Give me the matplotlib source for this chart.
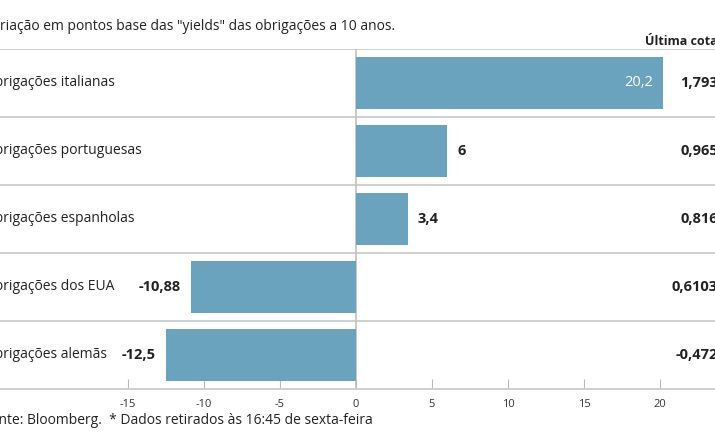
import matplotlib
matplotlib.use("Agg")
from matplotlib import pyplot as plt

# data
categories = ["Obrigações italianas", "Obrigações portuguesas", "Obrigações espanholas",
              "Obrigações dos EUA", "Obrigações alemãs"]
variation = [20.2, 6, 3.4, -10.88, -12.5]
variation_labels = ["20,2", "6", "3,4", "-10,88", "-12,5"]
last_quote = ["1,793", "0,965", "0,816", "0,6103", "-0,472"]
xticks = [-15, -10, -5, 0, 5, 10, 15, 20]

plt.rcParams["font.family"] = ["Open Sans", "DejaVu Sans"]

W, H = 715, 445
fig = plt.figure(figsize=(W / 100, H / 100), dpi=100)

# pixel geometry of the plotting area
x0_px, px_per_unit = 356, 15.2
top_px, bot_px = 49, 389
ax = fig.add_axes([0, (H - bot_px) / H, 1, (bot_px - top_px) / H])
ax.set_xlim(-x0_px / px_per_unit, (W - x0_px) / px_per_unit)
ax.set_ylim(len(categories) - 0.5, -0.5)

bar_color = "#6aa3be"
grid_color = "#cccccc"
ypos = list(range(len(categories)))
ax.barh(ypos, variation, height=0.76, color=bar_color, zorder=2)

# row separators and zero line
for i in range(len(categories)):
    ax.axhline(i - 0.5, color=grid_color, lw=1.3, zorder=1)
ax.axvline(0, color="#c4c4c4", lw=1.3, zorder=1)

for spine in ["top", "left", "right"]:
    ax.spines[spine].set_visible(False)
ax.spines["bottom"].set_color(grid_color)
ax.spines["bottom"].set_linewidth(1.3)
ax.set_yticks([])
ax.set_xticks(xticks)
ax.set_xticklabels([str(t) for t in xticks])
ax.tick_params(axis="x", direction="in", length=7, width=0.8, color="#bbbbbb",
               labelsize=8, labelcolor="#333333", pad=7)

label_x = -x0_px / px_per_unit - 16 / px_per_unit
for i, (cat, val, lab, q) in enumerate(zip(categories, variation, variation_labels, last_quote)):
    ax.text(label_x, i, cat, ha="left", va="center", fontsize=10, color="#222222")
    if val > 15:
        ax.text(val - 0.65, i, lab, ha="right", va="center", fontsize=10.5,
                color="white", zorder=3)
    elif val >= 0:
        ax.text(val + 0.65, i, lab, ha="left", va="center", fontsize=10.5,
                fontweight="bold", color="#222222")
    else:
        ax.text(val - 0.65, i, lab, ha="right", va="center", fontsize=10.5,
                fontweight="bold", color="#222222")
    fig.text(718 / W, (H - (top_px + 34 + 68 * i)) / H, q, ha="right", va="center",
             fontsize=10.5, fontweight="bold", color="#222222")

fig.text(645 / W, (H - 40) / H, "Última cotação*", ha="left", va="center",
         fontsize=9, fontweight="bold", color="#222222")
fig.text(-16 / W, (H - 26) / H,
         'Variação em pontos base das "yields" das obrigações a 10 anos.',
         ha="left", va="center", fontsize=10, color="#222222")
fig.text(-17 / W, (H - 421) / H,
         "Fonte: Bloomberg.  * Dados retirados às 16:45 de sexta-feira",
         ha="left", va="center", fontsize=10, color="#222222")

fig.savefig("out.png", dpi=100)
